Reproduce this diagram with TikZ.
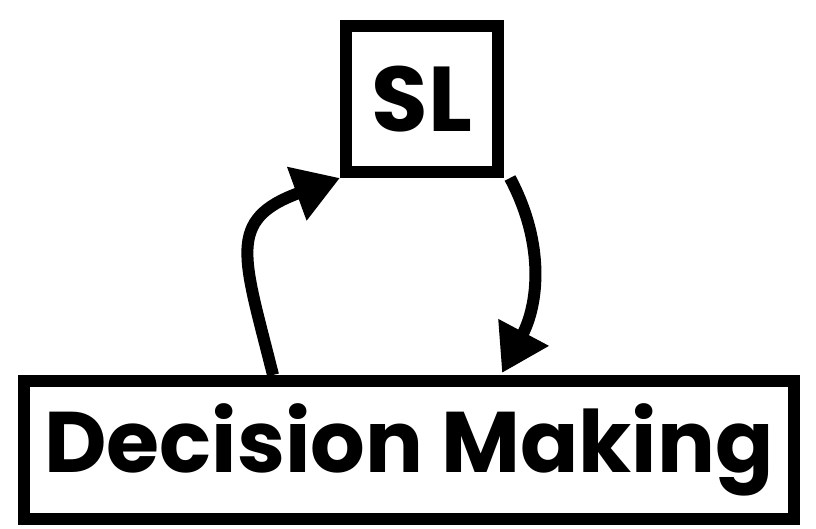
\documentclass[tikz,border=0pt]{standalone}
\usepackage{fontspec}
\setmainfont{Poppins}[BoldFont=* Bold]
\usetikzlibrary{arrows.meta,calc}
\begin{document}
\begin{tikzpicture}[x=1pt,y=1pt,
  box/.style={draw=black,line width=12pt,fill=white,inner sep=0pt,font=\bfseries},
  link/.style={line width=12pt,-{Triangle[length=46pt,width=54pt]}}]
\useasboundingbox (0,0) rectangle (816,529);
\node[box,minimum width=152pt,minimum height=146pt,font=\fontsize{92}{100}\selectfont\bfseries] (sl) at (422,430) {SL};
\node[box,minimum width=770pt,minimum height=138pt,font=\fontsize{86}{96}\selectfont\bfseries] (dm) at (409,79) {\raisebox{-4pt}{Decision Making}};
% feedback loop between the two boxes
\draw[link] ($(dm.north)+(-136pt,0)$) to[out=104,in=200,looseness=1.5] (sl.south west);
\draw[link] ($(sl.south east)+(6pt,0)$) to[out=-62,in=62] ($(dm.north)+(93pt,2pt)$);
\end{tikzpicture}
\end{document}
